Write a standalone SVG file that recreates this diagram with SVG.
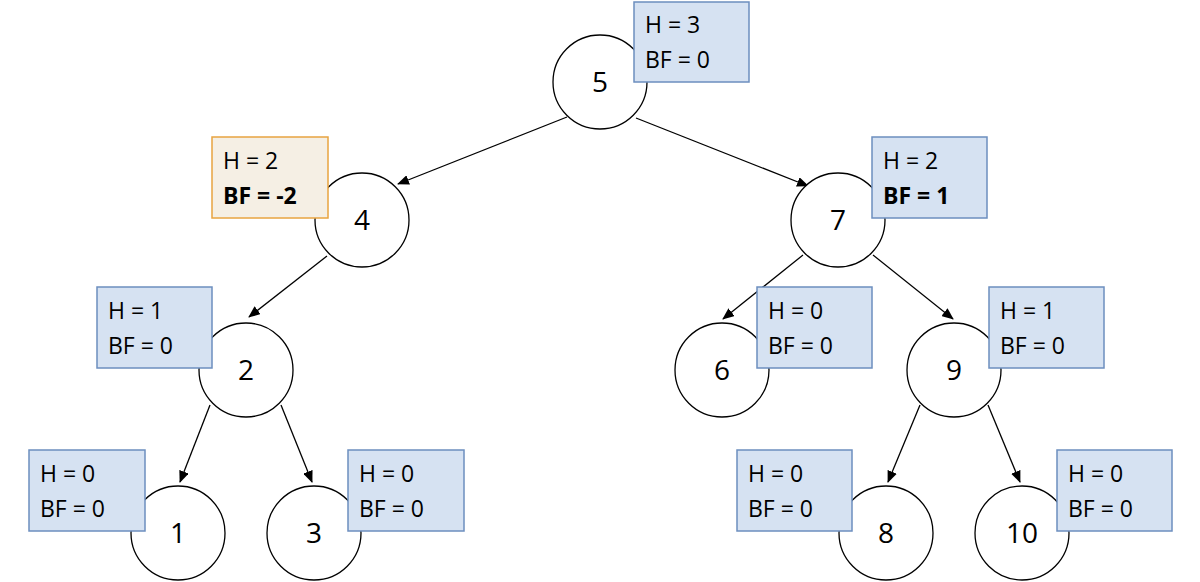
<svg xmlns="http://www.w3.org/2000/svg" width="1200" height="582" viewBox="0 0 1200 582">
<style>
.c{fill:#fff;stroke:#000;stroke-width:1.3}
.n{font-family:"Open Sans",sans-serif;font-size:28px;text-anchor:middle;fill:#000}
.b{fill:#d6e2f2;stroke:#6c8ebf;stroke-width:1.5}
.o{fill:#f5efe4;stroke:#e8a440;stroke-width:1.5}
.t{font-family:"Open Sans",sans-serif;font-size:23px;fill:#000}
.bd{font-weight:bold}
.e{stroke:#000;stroke-width:1.3;fill:none;marker-end:url(#a)}
</style>
<defs><marker id="a" markerWidth="12" markerHeight="10" refX="11" refY="5" orient="auto" markerUnits="userSpaceOnUse"><path d="M0,0L12,5L0,10z" fill="#000"/></marker></defs>
<g id="edges">
<line class="e" x1="567" y1="117" x2="398" y2="184"/>
<line class="e" x1="636" y1="118" x2="808" y2="186"/>
<line class="e" x1="327" y1="256" x2="249" y2="317"/>
<line class="e" x1="803" y1="255" x2="723" y2="319"/>
<line class="e" x1="873" y1="255" x2="953" y2="319"/>
<line class="e" x1="210" y1="405" x2="180" y2="482"/>
<line class="e" x1="281" y1="405" x2="312" y2="482"/>
<line class="e" x1="920" y1="405" x2="888" y2="482"/>
<line class="e" x1="988" y1="405" x2="1020" y2="482"/>
</g>
<g id="n5"><circle class="c" cx="600" cy="82" r="47"/><text class="n" x="600" y="92">5</text><rect class="b" x="634" y="2" width="115" height="80"/><text class="t" x="645" y="33">H = 3</text><text class="t" x="645" y="68">BF = 0</text></g>
<g id="n4"><circle class="c" cx="362" cy="220" r="47"/><text class="n" x="362" y="230">4</text><rect class="o" x="212" y="137" width="116" height="81"/><text class="t" x="223" y="169">H = 2</text><text class="t bd" x="223" y="204">BF = -2</text></g>
<g id="n7"><circle class="c" cx="838" cy="220" r="47"/><text class="n" x="838" y="230">7</text><rect class="b" x="872" y="137" width="115" height="81"/><text class="t" x="883" y="169">H = 2</text><text class="t bd" x="883" y="204">BF = 1</text></g>
<g id="n2"><circle class="c" cx="246" cy="370" r="47"/><text class="n" x="246" y="380">2</text><rect class="b" x="97" y="287" width="115" height="81"/><text class="t" x="108" y="319">H = 1</text><text class="t" x="108" y="354">BF = 0</text></g>
<g id="n6"><circle class="c" cx="722" cy="370" r="47"/><text class="n" x="722" y="380">6</text><rect class="b" x="757" y="287" width="115" height="81"/><text class="t" x="768" y="319">H = 0</text><text class="t" x="768" y="354">BF = 0</text></g>
<g id="n9"><circle class="c" cx="954" cy="370" r="47"/><text class="n" x="954" y="380">9</text><rect class="b" x="989" y="287" width="115" height="81"/><text class="t" x="1000" y="319">H = 1</text><text class="t" x="1000" y="354">BF = 0</text></g>
<g id="n1"><circle class="c" cx="178" cy="533" r="47"/><text class="n" x="178" y="543">1</text><rect class="b" x="29" y="450" width="116" height="81"/><text class="t" x="40" y="482">H = 0</text><text class="t" x="40" y="517">BF = 0</text></g>
<g id="n3"><circle class="c" cx="314" cy="533" r="47"/><text class="n" x="314" y="543">3</text><rect class="b" x="348" y="450" width="116" height="81"/><text class="t" x="359" y="482">H = 0</text><text class="t" x="359" y="517">BF = 0</text></g>
<g id="n8"><circle class="c" cx="886" cy="533" r="47"/><text class="n" x="886" y="543">8</text><rect class="b" x="737" y="450" width="115" height="81"/><text class="t" x="748" y="482">H = 0</text><text class="t" x="748" y="517">BF = 0</text></g>
<g id="n10"><circle class="c" cx="1022" cy="533" r="47"/><text class="n" x="1022" y="543">10</text><rect class="b" x="1057" y="450" width="115" height="81"/><text class="t" x="1068" y="482">H = 0</text><text class="t" x="1068" y="517">BF = 0</text></g>
</svg>
